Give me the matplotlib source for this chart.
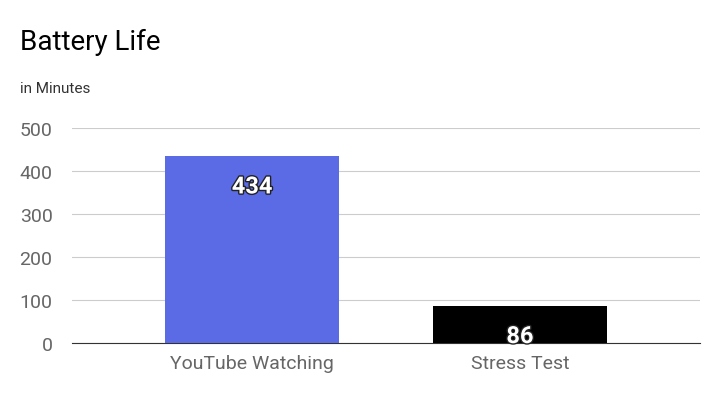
import matplotlib
matplotlib.use("Agg")
import matplotlib.pyplot as plt
import matplotlib.patheffects as pe

categories = ["YouTube Watching", "Stress Test"]
values = [434, 86]
colors = ["#5b6be6", "#000000"]
yticks = [0, 100, 200, 300, 400, 500]

plt.rcParams['font.family'] = ['Roboto', 'DejaVu Sans']
fig = plt.figure(figsize=(7.22, 4.06), dpi=100)
ax = fig.add_axes([72/722, 1-344/406, 628/722, 215/406])
x = list(range(len(categories)))
bars = ax.bar(x, values, width=0.65, color=colors, zorder=3)
ax.set_xlim(-0.672, 1.672)
ax.set_ylim(0, 500)
ax.set_yticks(yticks)
ax.set_xticks(x)
ax.set_xticklabels(categories)
ax.tick_params(axis='both', length=0, labelsize=14, colors='#666666', pad=8)
ax.tick_params(axis='y', pad=14)
ax.grid(axis='y', color='#cccccc', linewidth=0.8, zorder=0)
for s in ['top', 'right', 'left']:
    ax.spines[s].set_visible(False)
ax.spines['bottom'].set_color('#333333')
for b, v in zip(bars, values):
    t = ax.annotate(str(v), (b.get_x() + b.get_width()/2, v), xytext=(0, -22),
                    textcoords='offset points', ha='center', va='center',
                    color='white', fontsize=17, fontweight='bold', zorder=5)
    t.set_path_effects([pe.withStroke(linewidth=2, foreground='#222222')])
fig.text(20/722, 1-42/406, "Battery Life", fontsize=20, va='center', ha='left', color='black')
fig.text(20/722, 1-89/406, "in Minutes", fontsize=11, va='center', ha='left', color='#333333')
fig.savefig("out.png", dpi=100)
